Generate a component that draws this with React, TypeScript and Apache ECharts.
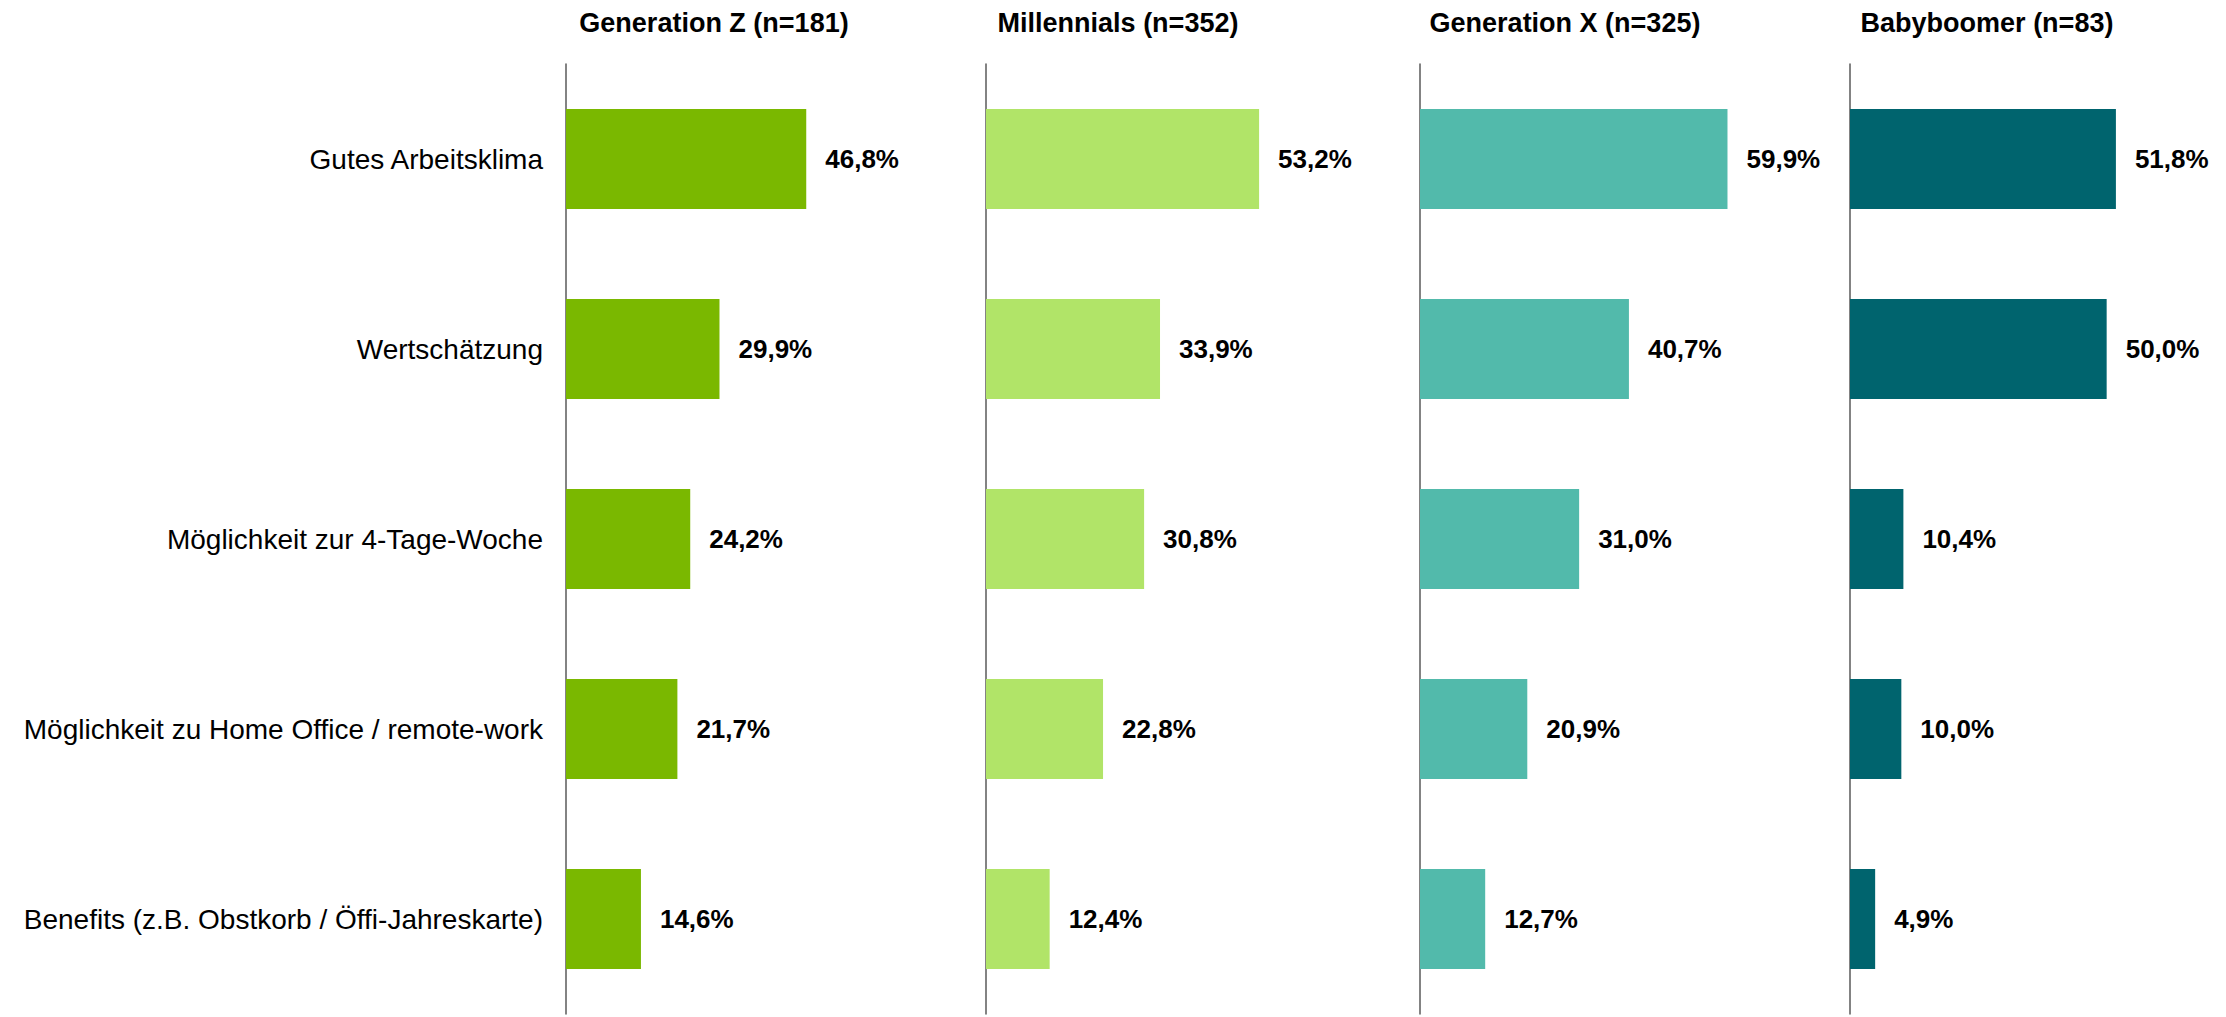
import React, { useEffect, useRef } from "react";
import * as echarts from "echarts";

const categories = [
  "Gutes Arbeitsklima",
  "Wertschätzung",
  "Möglichkeit zur 4-Tage-Woche",
  "Möglichkeit zu Home Office / remote-work",
  "Benefits (z.B. Obstkorb / Öffi-Jahreskarte)",
];

const panelTitles = [
  "Generation Z (n=181)",
  "Millennials (n=352)",
  "Generation X (n=325)",
  "Babyboomer (n=83)",
];

const genZ = [46.8, 29.9, 24.2, 21.7, 14.6];
const millennials = [53.2, 33.9, 30.8, 22.8, 12.4];
const genX = [59.9, 40.7, 31.0, 20.9, 12.7];
const boomers = [51.8, 50.0, 10.4, 10.0, 4.9];

const seriesData = [genZ, millennials, genX, boomers];
const colors = ["#7AB800", "#B1E468", "#52BAAB", "#00646E"];

const FONT = "Arial, 'Liberation Sans', sans-serif";

export default function App() {
  const ref = useRef<HTMLDivElement>(null);

  useEffect(() => {
    if (!ref.current) return;
    const chart = echarts.init(ref.current, undefined, { renderer: "svg" });

    const axisLefts = [566, 986, 1420, 1850];
    const titleCenters = [714, 1118, 1565, 1987];
    const xMax = 60;
    const gridWidth = 308;
    const gridTop = 64;
    const gridHeight = 950;

    const grid = axisLefts.map((l) => ({
      left: l,
      top: gridTop,
      width: gridWidth,
      height: gridHeight,
      containLabel: false,
    }));

    const xAxis = axisLefts.map((_, i) => ({
      type: "value",
      gridIndex: i,
      min: 0,
      max: xMax,
      show: false,
    }));

    const yAxis = axisLefts.map((_, i) => ({
      type: "category",
      gridIndex: i,
      data: categories,
      inverse: true,
      axisLine: { show: true, lineStyle: { color: "#5a5a5a", width: 1.5 } },
      axisTick: { show: false },
      splitLine: { show: false },
      axisLabel: {
        show: i === 0,
        color: "#000",
        fontSize: 28,
        fontFamily: FONT,
        margin: 23,
      },
    }));

    const series = seriesData.map((d, i) => ({
      type: "bar",
      xAxisIndex: i,
      yAxisIndex: i,
      data: d,
      barWidth: 100,
      itemStyle: { color: colors[i] },
      label: {
        show: true,
        position: "right",
        distance: 19,
        color: "#000",
        fontWeight: "bold",
        fontSize: 26,
        fontFamily: FONT,
        formatter: (p: any) => p.value.toFixed(1).replace(".", ",") + "%",
      },
    }));

    const title = panelTitles.map((t, i) => ({
      text: t,
      left: titleCenters[i],
      top: 9,
      padding: 0,
      textAlign: "center",
      textStyle: {
        fontSize: 27,
        fontWeight: "bold",
        color: "#000",
        fontFamily: FONT,
      },
    }));

    chart.setOption({
      animation: false,
      backgroundColor: "#fff",
      title,
      grid,
      xAxis,
      yAxis,
      series,
    });

    return () => chart.dispose();
  }, []);

  return (
    <div
      ref={ref}
      style={{ position: "fixed", left: 0, top: 0, width: 2226, height: 1017 }}
    />
  );
}
